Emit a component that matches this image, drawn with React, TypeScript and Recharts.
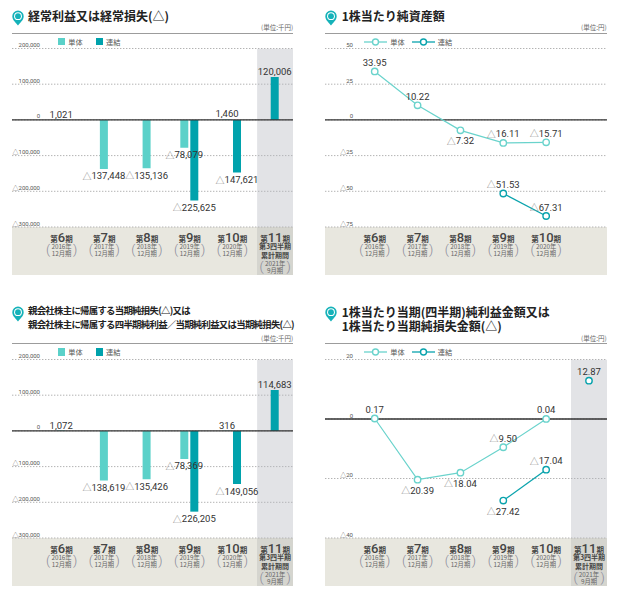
import React from 'react';
import {
  ComposedChart,
  Bar,
  Line,
  XAxis,
  YAxis,
  CartesianGrid,
  ReferenceArea,
  ReferenceLine,
  LabelList,
  Cell,
} from 'recharts';

// ---------- data ----------
const periods = [6, 7, 8, 9, 10, 11];
const cumulativePeriod = 11;
const periodYears = ['2016年', '2017年', '2018年', '2019年', '2020年', '2021年'];
const periodMonths = ['12月期', '12月期', '12月期', '12月期', '12月期', '9月期'];
const cumulativeNote = ['第3四半期', '累計期間'];
const seriesNames = ['単体', '連結'];

// 経常利益又は経常損失(△) 単位:千円
const ordinaryTan = [1021, -137448, -135136, -78079, 1460, null];
const ordinaryRen = [null, null, null, -225625, -147621, 120006];
// 親会社株主に帰属する当期純損益 単位:千円
const netTan = [1072, -138619, -135426, -78369, 316, null];
const netRen = [null, null, null, -226205, -149056, 114683];
// 1株当たり純資産額 単位:円
const bpsTan = [33.95, 10.22, -7.32, -16.11, -15.71, null];
const bpsRen = [null, null, null, -51.53, -67.31, null];
// 1株当たり当期純損益 単位:円
const epsTan = [0.17, -20.39, -18.04, -9.5, 0.04, null];
const epsRen = [null, null, null, -27.42, -17.04, 12.87];

const thousandTicks = [200000, 100000, 0, -100000, -200000, -300000];
const bpsTicks = [50, 25, 0, -25, -50, -75];
const epsTicks = [20, 0, -20, -40];

// label placement (true = below the point)
const bpsTanBelow = [false, false, true, false, false, false];
const bpsRenBelow = [false, false, false, false, false, false];
const epsTanBelow = [false, true, true, false, false, false];
const epsRenBelow = [false, false, false, true, false, false];

// ---------- styles ----------
const TAN = '#5bd1c9';
const REN = '#00a2ac';
const TAN_LINE = '#6ad3cc';
const REN_LINE = '#0aa3ad';
const X_DOMAIN: [number, number] = [4.84, 11.42];
const CUM_START = 10.58;
const JP = '"Noto Sans CJK JP", "Noto Sans", sans-serif';
const NUM = 'Roboto, "Noto Sans CJK JP", sans-serif';

const PLOT_TOP = 48.5;
const PLOT_BOTTOM = 227;
const BAND_H = 48;

const fmtThousand = (v: number) => Math.abs(v).toLocaleString('en-US');
const fmtYen = (v: number) => Math.abs(v).toFixed(2);
const fmtTick = (v: number) => (v < 0 ? '△' : '') + Math.abs(v).toLocaleString('en-US');

const ValueText = ({ x, y, value, fmt }: any) => (
  <text
    x={x}
    y={y}
    textAnchor="middle"
    dominantBaseline="central"
    fontSize={9.5}
    fontFamily={NUM}
    fill="#333"
  >
    {value < 0 && <tspan fill="#888" fontFamily={JP} fontSize={9}>△</tspan>}
    {fmt(value)}
  </text>
);

const makeBarLabel = (fmt: (v: number) => string) => (props: any) => {
  const vb = props.viewBox || props;
  let v = props.value;
  if (Array.isArray(v)) v = v[1];
  if (v == null || isNaN(Number(v))) return null;
  const x = Number(vb.x ?? props.x);
  const y = Number(vb.y ?? props.y);
  const w = Number(vb.width ?? props.width ?? 0);
  const h = Number(vb.height ?? props.height ?? 0);
  const top = Math.min(y, y + h);
  const bottom = Math.max(y, y + h);
  const ty = v >= 0 ? top - 5.5 : bottom + 7;
  return <ValueText x={x + w / 2} y={ty} value={v} fmt={fmt} />;
};

const makeLineLabel = (below: boolean[]) => (props: any) => {
  const v = props.value;
  if (v == null || isNaN(Number(v))) return null;
  const vb = props.viewBox || props;
  const x = Number(vb.x ?? props.x);
  const y = Number(vb.y ?? props.y);
  const ty = below[props.index] ? y + 10.5 : y - 9;
  return <ValueText x={x} y={ty} value={v} fmt={fmtYen} />;
};

const YTick = (props: any) => {
  const { x, y, payload } = props;
  return (
    <text
      x={Number(x) + 28}
      y={Number(y) - 4}
      textAnchor="end"
      dominantBaseline="central"
      fontSize={6}
      fontFamily={NUM}
      fill="#555"
    >
      {fmtTick(payload.value)}
    </text>
  );
};

const PeriodTick = (props: any) => {
  const { x, y, payload } = props;
  const i = periods.indexOf(payload.value);
  if (i < 0) return null;
  const cum = payload.value === cumulativePeriod;
  const dTop = cum ? y + 34 : y + 17;
  return (
    <g>
      <text x={x} y={y + 12.5} textAnchor="middle" fill="#454545" fontFamily={JP}>
        <tspan fontSize={7.5} fontWeight={700}>第</tspan>
        <tspan fontSize={13} fontFamily={NUM} fontWeight={500}>{payload.value}</tspan>
        <tspan fontSize={7.5} fontWeight={700}>期</tspan>
      </text>
      {cum &&
        cumulativeNote.map((t, k) => (
          <text
            key={k}
            x={x}
            y={y + 17 + k * 9}
            textAnchor="middle"
            dominantBaseline="central"
            fontSize={7}
            fontWeight={700}
            fontFamily={JP}
            fill="#454545"
          >
            {t}
          </text>
        ))}
      <text x={x} y={dTop} textAnchor="middle" dominantBaseline="central" fontSize={6.3} fontFamily={JP} fill="#666">
        {periodYears[i]}
      </text>
      <text x={x} y={dTop + 7.7} textAnchor="middle" dominantBaseline="central" fontSize={6.3} fontFamily={JP} fill="#666">
        {periodMonths[i]}
      </text>
      <text x={x - 13.5} y={dTop + 3.9} textAnchor="middle" dominantBaseline="central" fontSize={13} fontFamily={NUM} fontWeight={300} fill="#8a8a9a">
        (
      </text>
      <text x={x + 13.5} y={dTop + 3.9} textAnchor="middle" dominantBaseline="central" fontSize={13} fontFamily={NUM} fontWeight={300} fill="#8a8a9a">
        )
      </text>
    </g>
  );
};

const Pin = ({ left, top }: { left: number; top: number }) => (
  <svg style={{ position: 'absolute', left, top }} width={12} height={16} viewBox="0 0 12 16">
    <path d="M6 15.6 C4.6 13.2 0.3 10.4 0.3 6.2 A5.7 5.7 0 0 1 11.7 6.2 C11.7 10.4 7.4 13.2 6 15.6 Z" fill="#15b2b9" />
    <circle cx={6} cy={6.2} r={3.9} fill="#fff" />
    <circle cx={6} cy={6.2} r={2.9} fill="#15b2b9" />
  </svg>
);

type HeaderProps = {
  pinX: number;
  pinY: number;
  lines: string[];
  titleLeft: number;
  titleTop: number;
  fontSize: number;
  lineHeight: number;
  letterSpacing?: number;
  unit: string;
  left: number;
  right: number;
  unitY: number;
  sepY: number;
  legendY: number;
  legendX: number;
  kind: 'bar' | 'line';
};

const Header = (p: HeaderProps) => {
  const colors = p.kind === 'bar' ? [TAN, REN] : [TAN_LINE, REN_LINE];
  const itemStep = p.kind === 'bar' ? 37.7 : 47.4;
  return (
    <>
      <Pin left={p.pinX} top={p.pinY} />
      <div
        style={{
          position: 'absolute',
          left: p.titleLeft,
          top: p.titleTop,
          fontSize: p.fontSize,
          lineHeight: `${p.lineHeight}px`,
          letterSpacing: p.letterSpacing ?? 0,
          fontWeight: 600,
          color: '#222',
          whiteSpace: 'nowrap',
        }}
      >
        {p.lines.map((l, i) => (
          <div key={i}>{l}</div>
        ))}
      </div>
      <div
        style={{
          position: 'absolute',
          left: p.right - 100,
          width: 100,
          top: p.unitY - 5,
          height: 10,
          lineHeight: '10px',
          textAlign: 'right',
          fontSize: 6.5,
          color: '#666',
        }}
      >
        {p.unit}
      </div>
      <div
        style={{
          position: 'absolute',
          left: p.left,
          width: p.right - p.left,
          top: p.sepY - 0.65,
          height: 1.3,
          background: '#9c9c9c',
        }}
      />
      {seriesNames.map((name, k) => {
        const lx = p.legendX + k * itemStep;
        return (
          <React.Fragment key={name}>
            {p.kind === 'bar' ? (
              <div
                style={{
                  position: 'absolute',
                  left: lx,
                  top: p.legendY - 3.6,
                  width: 7.2,
                  height: 7.2,
                  background: colors[k],
                }}
              />
            ) : (
              <svg style={{ position: 'absolute', left: lx, top: p.legendY - 4 }} width={23} height={8}>
                <line x1={0} x2={23} y1={4} y2={4} stroke={colors[k]} strokeWidth={1.3} />
                <circle cx={11.5} cy={4} r={3} fill="#fff" stroke={colors[k]} strokeWidth={1.4} />
              </svg>
            )}
            <div
              style={{
                position: 'absolute',
                left: lx + (p.kind === 'bar' ? 10 : 26),
                top: p.legendY - 5,
                height: 10,
                lineHeight: '10px',
                fontSize: 7.2,
                color: '#555',
                whiteSpace: 'nowrap',
              }}
            >
              {name}
            </div>
          </React.Fragment>
        );
      })}
    </>
  );
};

const xPix = (v: number, left: number, width: number) =>
  left + ((v - X_DOMAIN[0]) / (X_DOMAIN[1] - X_DOMAIN[0])) * width;

const Band = ({ plotLeft, plotRight, hasCum }: { plotLeft: number; plotRight: number; hasCum: boolean }) => {
  const w = plotRight - plotLeft;
  const g = xPix(CUM_START, plotLeft, w);
  return (
    <>
      <div
        style={{
          position: 'absolute',
          left: plotLeft,
          top: PLOT_BOTTOM,
          width: w,
          height: BAND_H,
          background: '#e8e7df',
        }}
      />
      {hasCum && (
        <div
          style={{
            position: 'absolute',
            left: g,
            top: PLOT_BOTTOM,
            width: plotRight - g,
            height: BAND_H,
            background: '#d5d5cf',
          }}
        />
      )}
    </>
  );
};

function BarPanel({ x, y, tan, ren }: { x: number; y: number; tan: (number | null)[]; ren: (number | null)[] }) {
  const rows = periods.map((p, i) => {
    const both = tan[i] != null && ren[i] != null;
    return {
      p,
      pairTan: both ? tan[i] : null,
      pairRen: both ? ren[i] : null,
      solo: both ? null : tan[i] != null ? tan[i] : ren[i],
      soloIsRen: !both && tan[i] == null && ren[i] != null,
    };
  });
  const width = 310;
  const margin = { top: PLOT_TOP, right: 17, bottom: 0, left: 11 };
  const label = makeBarLabel(fmtThousand);
  return (
    <div style={{ position: 'absolute', left: x, top: y, width, height: PLOT_BOTTOM + BAND_H }}>
      <Band plotLeft={margin.left + 1} plotRight={width - margin.right} hasCum={true} />
      <div style={{ position: 'absolute', left: 0, top: 0, zIndex: 1 }}>
        <ComposedChart width={width} height={PLOT_BOTTOM + BAND_H} data={rows} margin={margin} barGap={2}>
          <CartesianGrid xAxisId="solo" vertical={false} stroke="#b3b3b3" strokeDasharray="1.4 1.6" />
          <ReferenceArea
            xAxisId="solo"
            x1={CUM_START}
            x2={X_DOMAIN[1]}
            fill="#b6bac0"
            fillOpacity={0.4}
            stroke="none"
            ifOverflow="hidden"
          />
          <XAxis
            xAxisId="solo"
            dataKey="p"
            type="number"
            domain={X_DOMAIN}
            allowDataOverflow
            ticks={periods}
            interval={0}
            axisLine={false}
            tickLine={false}
            tickSize={0}
            height={BAND_H}
            tick={<PeriodTick />}
          />
          <XAxis
            xAxisId="pair"
            dataKey="p"
            type="number"
            domain={X_DOMAIN}
            allowDataOverflow
            ticks={periods}
            height={0}
            hide
          />
          <YAxis
            type="number"
            domain={[-300000, 200000]}
            ticks={thousandTicks}
            interval={0}
            allowDataOverflow
            width={1}
            axisLine={false}
            tickLine={false}
            tickSize={0}
            tickMargin={0}
            tick={<YTick />}
          />
          <Bar xAxisId="solo" dataKey="solo" barSize={8} isAnimationActive={false}>
            {rows.map((r, i) => (
              <Cell key={i} fill={r.soloIsRen ? REN : TAN} />
            ))}
            <LabelList dataKey="solo" content={label} />
          </Bar>
          <Bar xAxisId="pair" dataKey="pairTan" barSize={8} fill={TAN} isAnimationActive={false}>
            <LabelList dataKey="pairTan" content={label} />
          </Bar>
          <Bar xAxisId="pair" dataKey="pairRen" barSize={8} fill={REN} isAnimationActive={false}>
            <LabelList dataKey="pairRen" content={label} />
          </Bar>
          <ReferenceLine xAxisId="solo" y={0} stroke="#333" strokeWidth={1.3} />
        </ComposedChart>
      </div>
    </div>
  );
}

function LinePanel({
  x,
  y,
  tan,
  ren,
  domain,
  ticks,
  tanBelow,
  renBelow,
}: {
  x: number;
  y: number;
  tan: (number | null)[];
  ren: (number | null)[];
  domain: [number, number];
  ticks: number[];
  tanBelow: boolean[];
  renBelow: boolean[];
}) {
  const ci = periods.indexOf(cumulativePeriod);
  const hasCum = tan[ci] != null || ren[ci] != null;
  const rows = periods.map((p, i) => ({
    p,
    tan: p === cumulativePeriod ? null : tan[i],
    ren: p === cumulativePeriod ? null : ren[i],
    tanCum: p === cumulativePeriod ? tan[i] : null,
    renCum: p === cumulativePeriod ? ren[i] : null,
  }));
  const xTicks = hasCum ? periods : periods.filter((p) => p !== cumulativePeriod);
  const width = 312;
  const margin = { top: PLOT_TOP, right: 15, bottom: 0, left: 14 };
  const dotT = { r: 3.2, fill: '#fff', stroke: TAN_LINE, strokeWidth: 1.4 };
  const dotR = { r: 3.2, fill: '#fff', stroke: REN_LINE, strokeWidth: 1.4 };
  return (
    <div style={{ position: 'absolute', left: x, top: y, width, height: PLOT_BOTTOM + BAND_H }}>
      <Band plotLeft={margin.left + 1} plotRight={width - margin.right} hasCum={hasCum} />
      <div style={{ position: 'absolute', left: 0, top: 0, zIndex: 1 }}>
        <ComposedChart width={width} height={PLOT_BOTTOM + BAND_H} data={rows} margin={margin}>
          <CartesianGrid vertical={false} stroke="#b3b3b3" strokeDasharray="1.4 1.6" />
          {hasCum && (
            <ReferenceArea
              x1={CUM_START}
              x2={X_DOMAIN[1]}
              fill="#b6bac0"
              fillOpacity={0.4}
              stroke="none"
              ifOverflow="hidden"
            />
          )}
          <XAxis
            dataKey="p"
            type="number"
            domain={X_DOMAIN}
            allowDataOverflow
            ticks={xTicks}
            interval={0}
            axisLine={false}
            tickLine={false}
            tickSize={0}
            height={BAND_H}
            tick={<PeriodTick />}
          />
          <YAxis
            type="number"
            domain={domain}
            ticks={ticks}
            interval={0}
            allowDataOverflow
            width={1}
            axisLine={false}
            tickLine={false}
            tickSize={0}
            tickMargin={0}
            tick={<YTick />}
          />
          <ReferenceLine y={0} stroke="#333" strokeWidth={1.3} />
          <Line dataKey="tan" stroke={TAN_LINE} strokeWidth={1.2} dot={dotT} isAnimationActive={false}>
            <LabelList dataKey="tan" content={makeLineLabel(tanBelow)} />
          </Line>
          <Line dataKey="ren" stroke={REN_LINE} strokeWidth={1.3} dot={dotR} isAnimationActive={false}>
            <LabelList dataKey="ren" content={makeLineLabel(renBelow)} />
          </Line>
          {hasCum && (
            <Line dataKey="renCum" stroke="none" dot={dotR} isAnimationActive={false}>
              <LabelList dataKey="renCum" content={makeLineLabel(renBelow)} />
            </Line>
          )}
        </ComposedChart>
      </div>
    </div>
  );
}

export default function App() {
  const BOTTOM = 310.5;
  return (
    <div
      style={{
        position: 'absolute',
        left: 0,
        top: 0,
        width: 622,
        height: 590,
        background: '#fff',
        overflow: 'hidden',
        fontFamily: JP,
      }}
    >
      <Header
        pinX={12}
        pinY={9.5}
        lines={['経常利益又は経常損失(△)']}
        titleLeft={28}
        titleTop={9}
        fontSize={12}
        lineHeight={14}
        unit="(単位:千円)"
        left={12}
        right={293.3}
        unitY={26.7}
        sepY={33.3}
        legendY={41.7}
        legendX={58.3}
        kind="bar"
      />
      <Header
        pinX={325}
        pinY={9.5}
        lines={['1株当たり純資産額']}
        titleLeft={341.7}
        titleTop={9}
        fontSize={12}
        lineHeight={14}
        unit="(単位:円)"
        left={325}
        right={606.7}
        unitY={26.7}
        sepY={33.3}
        legendY={41.7}
        legendX={364.3}
        kind="line"
      />
      <Header
        pinX={12}
        pinY={306}
        lines={['親会社株主に帰属する当期純損失(△)又は', '親会社株主に帰属する四半期純利益／当期純利益又は当期純損失(△)']}
        titleLeft={28}
        titleTop={302.9}
        fontSize={9.4}
        lineHeight={14.3}
        letterSpacing={-0.7}
        unit="(単位:千円)"
        left={12}
        right={293.3}
        unitY={337.7}
        sepY={343.5}
        legendY={352}
        legendX={58.3}
        kind="bar"
      />
      <Header
        pinX={325}
        pinY={306}
        lines={['1株当たり当期(四半期)純利益金額又は', '1株当たり当期純損失金額(△)']}
        titleLeft={341.7}
        titleTop={304.7}
        fontSize={12}
        lineHeight={14}
        unit="(単位:円)"
        left={325}
        right={606.7}
        unitY={337.7}
        sepY={343.7}
        legendY={352}
        legendX={364.3}
        kind="line"
      />
      <BarPanel x={0} y={0} tan={ordinaryTan} ren={ordinaryRen} />
      <LinePanel
        x={310}
        y={0}
        tan={bpsTan}
        ren={bpsRen}
        domain={[-75, 50]}
        ticks={bpsTicks}
        tanBelow={bpsTanBelow}
        renBelow={bpsRenBelow}
      />
      <BarPanel x={0} y={BOTTOM} tan={netTan} ren={netRen} />
      <LinePanel
        x={310}
        y={BOTTOM}
        tan={epsTan}
        ren={epsRen}
        domain={[-40, 20]}
        ticks={epsTicks}
        tanBelow={epsTanBelow}
        renBelow={epsRenBelow}
      />
    </div>
  );
}
